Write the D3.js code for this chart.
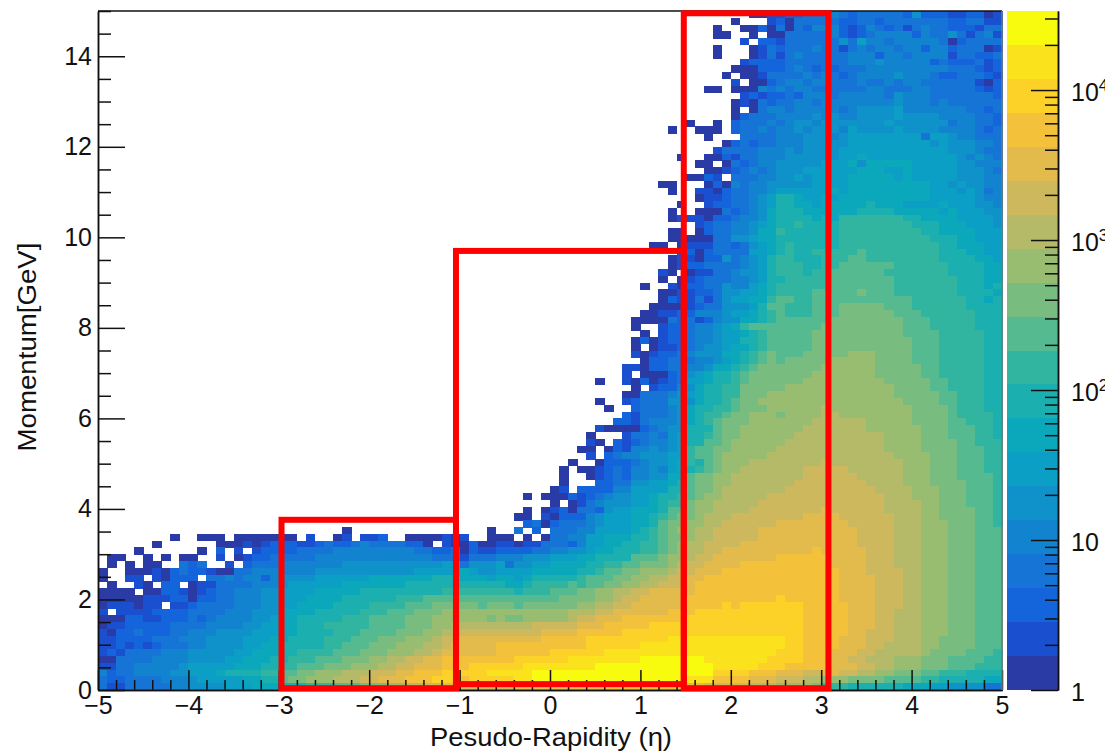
<!DOCTYPE html>
<html>
<head>
<meta charset="utf-8">
<script src="https://cdn.jsdelivr.net/npm/d3@7"></script>
<style>
  html, body { margin: 0; background: #fff; overflow: hidden; }
  text { font-family: "Liberation Sans", Arial, sans-serif; fill: #111; }
</style>
</head>
<body>
<div id="chart"></div>
<script>
// colour band of each histogram bin, one string per momentum row, top row first
// "." = empty bin, 0-9 then a-j = band on the colour bar; blocks are one eta unit wide
const binRows = [
".......... .......... .......... .......... .......... .......... .......... ..00112233 3432333332 5222112201",
".......... .......... .......... .......... .......... .......... .......... 0...120333 3322332333 3333223311",
".......... .......... .......... .......... .......... .......... ........0. .002030324 4421243231 3433222133",
".......... .......... .......... .......... .......... .......... ........00 ..0.003333 3421234444 2433531341",
".......... .......... .......... .......... .......... .......... .......... .1.2213333 3353644344 4443023333",
".......... .......... .......... .......... .......... .......... ........0. ..01323334 3313434434 4244233301",
".......... .......... .......... .......... .......... .......... ........0. ..01313433 3334442443 4444133223",
".......... .......... .......... .......... .......... .......... .......... .122223333 3334445444 4423222312",
".......... .......... .......... .......... .......... .......... .......... 0002223432 3233344444 4444333212",
".......... .......... .......... .......... .......... .......... .........0 .001333343 4323444454 4432233321",
".......... .......... .......... .......... .......... .......... .......... 1.00234434 4333433434 4333333102",
".......... .......... .......... .......... .......... .......... .......00. 0004343443 3333344333 4433333212",
".......... .......... .......... .......... .......... .......... .......... .121223244 4344444354 4433333332",
".......... .......... .......... .......... .......... .......... .......... 0103233443 4444444454 4434333333",
".......... .......... .......... .......... .......... .......... .......... 0.03443444 4434555564 4444443323",
".......... .......... .......... .......... .......... .......... .......... 0233344445 4544555565 5554444332",
".......... .......... .......... .......... .......... .......... .....0..0. 2333434554 5555555655 5555344332",
".......... .......... .......... .......... .......... .......... ...0..000. 2334344545 5546555565 5554444323",
".......... .......... .......... .......... .......... .......... .......0.. .333344455 5456666666 6366544333",
".......... .......... .......... .......... .......... .......... .........0 2323344455 5556666666 6656555443",
".......... .......... .......... .......... .......... .......... ........13 3334445455 5566666666 6666555433",
".......... .......... .......... .......... .......... .......... ....0..002 1334445555 5566766666 6666654543",
".......... .......... .......... .......... .......... .......... ......00.0 3234455555 6667577777 6666655444",
".......... .......... .......... .......... .......... .......... .......001 2343455566 6666777667 6666655543",
".......... .......... .......... .......... .......... .......... .....0021. 3334455656 6667777767 6666655544",
".......... .......... .......... .......... .......... .......... ..00...020 4344555556 6667777777 7766565544",
".......... .......... .......... .......... .......... .......... ...0..1102 3344566666 6767777777 7766656534",
".......... .......... .......... .......... .......... .......... ......0112 3345688766 7677777777 7766666544",
".......... .......... .......... .......... .......... .......... ....0..122 3345688776 7777787776 6667666554",
".......... .......... .......... .......... .......... .......... ...0..0003 2345788877 7777888877 7776766655",
".......... .......... .......... .......... .......... .......... ...0111022 3445788887 8799999998 8777766665",
".......... .......... .......... .......... .......... .......... ......1233 4456788988 8899999999 8887776665",
".......... .......... .......... .......... .......... .......... ...00.0233 4457798888 8899999999 9887777666",
".......... .......... .......... .......... .......... .......... ...0000033 5567788888 8899999999 9988877666",
".......... .......... .......... .......... .......... .......... .00.011133 2356789888 8899999999 9998877766",
".......... .......... .......... .......... .......... .......... ....120233 3366789889 9999a99999 9998887766",
".......... .......... .......... .......... .......... .......... ...0110225 3456899888 999aa99999 9998888776",
".......... .......... .......... .......... .......... .......... ...0122333 3456899988 99aaaaaa99 9999888877",
".......... .......... .......... .......... .......... .......... ..10.01133 4556899989 9aaaaaa999 9999888877",
".......... .......... .......... .......... .......... .......... ..0.012333 4456889999 9aaaaaaa99 9999988877",
".......... .......... .......... .......... .......... .......... 0..1022335 4467899999 9aaaaaaa99 9999988878",
".......... .......... .......... .......... .......... .......... ..00112235 566789999a aaaabaaa99 9999988887",
".......... .......... .......... .......... .......... .......... ..02113135 66779aa99a aaaaaaaaaa 9999998878",
".......... .......... .......... .......... .......... .......... .000012335 5568aa999a aabbbbbaaa 9999998888",
".......... .......... .......... .......... .......... .......... 0011224445 66789a999a aabbbbbbaa a999999888",
".......... .......... .......... .......... .......... .........0 0003231245 57789aaaaa abbbbbbbba aa99999888",
".......... .......... .......... .......... .......... .........0 ..12234456 79aaaaaaaa bbbbbbbbba aa99999888",
".......... .......... .......... .......... .......... .......... 0.12234456 6789aaaaab bbbbbbbbba aaa9999988",
".......... .......... .......... .......... .......... .........0 2012234456 6889aaaaab bbbbbbbbbb aaa9999988",
".......... .......... .......... .......... .......... .........0 .011234556 7789aaaaab bbbbbbbbbb aaa9999988",
".......... .......... .......... .......... .......... .........1 0122345557 789abaaabb bbbcccbbbb aaa9999988",
".......... .......... .......... .......... .......... .......... 0223334456 789ababbbb bcccccbbbb aaa9999988",
".......... .......... .......... .......... .......... ........11 0223344577 89abbbbbbb ccccccbbbb baa9999988",
".......... .......... .......... .......... .......... ........1. 0002356788 9abbbbbbbc ccccccbbbb baa9999988",
".......... .......... .......... .......... .......... .....0..10 2012366788 9abbbbbbcc cccccccbbb bbaa999988",
".......... .......... .......... .......... .......... .........0 .122457889 9bbbbbcccc ccccccccbb bbaa999988",
".......... .......... .......... .......... .......... ........00 3334567889 9bbbcccccc ccccccccbb bbbaa99988",
".......... .......... .......... .......... .......... .....0..12 3335557889 abbccccccc cccccccccb bbbaa99988",
".......... .......... .......... .......... .......... ......0..2 3334578899 abbbcccccc dccccccccc bbbba99988",
".......... .......... .......... .......... .......... ........21 333457899a bbcccbcccc ddcccccccc bbbba99998",
".......... .......... .......... .......... .......... .......221 34445789ab bbcccccccd dddddccccc bbbbaa9998",
".......... .......... .......... .......... .......... .....10000 23455888ab bcccccccdd dddddccccc cbbbaaa998",
".......... .......... .......... .......... .......... ....0...13 34356889ab bccccccddd dddddddccc cbbbaaa998",
".......... .......... .......... .......... .......... ....10.212 3445688aab ccccccdddd dddddddccc cbbbbaa999",
".......... .......... .......... .......... .......... ...00.0214 454569aabb cccccddddd dddddddccc cbbbbaaa99",
".......... .......... .......... .......... .......... ....1.2344 555669aabc ccccdddddd ddddddddcc ccbbbaaa99",
".......... .......... .......... .......... .......... ..0..02223 4556798abc ccdddddddd eddddddddc ccbbbaaa99",
".......... .......... .......... .......... .......... .0.0012324 4546789abc cdddddddee eeeddddddc ccbbbaaa99",
".......... .......... .......... .......... .......... .0..012324 45577abbcc ddddddddee eeeedddddc ccbbbaaaa9",
".......... .......... .......... .......... .......... .0...22335 56678abbcc dddddddeee eeeeeddddc ccbbbbaaa9",
".......... .......... .......... .......... .......... 01.2222446 66688abbcd ddddddeeee eeeeeedddd cccbbbaaa9",
".......... .......... .......... .......... .......0.0 0021234556 67889abccd ddddeeeeee eeeeeeeddd cccbbbaaa9",
".......... .......... .......... .......... .......... 0.01345556 67899bccdd dddeeeeeee eeeeeeeddd dccbbbaaa9",
".......... .......... .......... .......... .......0.0 1203325667 778aabccdd ddeeeeeeee feeeeeeddd dccbbbbaa9",
".......... .......... .......... .......... ......00.1 0222456667 789abbcddd eeeeeeeeff ffeeeeeedd dccbbbbaa9",
".......... .......... .......... .......... .......230 2333456667 78abbccdde eeeeefffff fffeeeeedd dcccbbbaa9",
".......... .......... .......0.. .......... ...0..3.2. 3334466667 89abccddee eeefffffff ffffeeeedd dcccbbbaaa",
"........0. .000.00000 00.1..01.1 12..000010 1..000.0.0 3344667778 89abbcddee eeefffffff ffffeeeedd dcccbbbaaa",
"......0... ...0001012 2211232234 3333220.10 0200110113 3324667788 99abcddeee efffffffff ffffeeeedd dcccbbbaaa",
"....0..... .0.2.1.122 2233334444 4444433223 0211222233 4455677888 99abcddeef fffffffffg fffffeeedd dcccbbbaaa",
".00..0.0.0 0..1.01223 3333444444 4444444333 1333444555 666778888a aabccdeeff fffffggggg gffffeeedd dcccbbbaaa",
".0.0.00..3 23..1.2333 4444444555 5555555566 3555635566 77778899aa bbbcdeefff fggggggggg gffffeeedd dcccbbbaaa",
"0..0001023 2210033444 4444555555 5555566666 7655666677 777889aabb cccdeefffg gggggggggg ggfffeeeed dcccbbbaaa",
"0..11.1022 2.33434424 5555666666 7777777888 7776776788 8889aaabbc cddeeffggg gggggggggg ggffffeeed dcccbbbaaa",
".0..10.22. 0113333444 5666666777 7777888888 8888877899 99a9aabbcc ddeeefgggg gggggggggg ggffffeeed dcccbbbaaa",
"0000.00221 0123344455 6666777778 8888888899 9999998999 aaabbccdde efffffgggg gggggggggg ggffffeeed dcccbbbaaa",
"0000011122 0223344455 6667777888 888999aaaa aaaaaaaaaa abbbbccdee fffffggggg ggggghgggg ggffffeeed dcccbbbaaa",
"0111011.11 2333344455 6677778888 9999aaabbb bbabbbabbb bbbccddeef fffffggggh ghhhhhhhgg gggfffeeed dcccbbbaaa",
"1.11112222 3333444555 7777888889 99aaabbbcc cccccccccc ccdddeefff fffggghhhh hhhhhhhhgg gggfffeedd dcccbbbaaa",
"0002211222 3234444556 7788888999 aaaabbbccc cccbcbbccc ccdeefffgg ggggghhhhh hhhhhhhhgg gggfffeedd dcccbbbaaa",
"0112222233 3344445566 7788899999 aaaabbbccd ddddddddee eeefffgggg ghhhhhhhhh hhhhhhhhgg gggfffeedd dcccbbbaaa",
"1022322233 4445555666 778888999a aaabbbccdd eeeeeeeeef fffggggghh hhhhhhhhhh hhhhhhhhgg gggffeeedd dcccbbbaaa",
"1122223334 4455556667 78888999aa abbbcccdee fffffffffg gggghhhhhh hhhiiiiiii iiiiiihhgg ggfffeeedd dccbbbbaaa",
"1121212333 4455556677 8888899aaa bbbcccddef ffffgggggg gggghhhhhh iiiiiiiiii iiiiiihhgg ggfffeeddd dccbbbbaaa",
"1213333444 5555566777 889999aaab bbcccddeff ffffgggggg hhhhhhiiii iiiiiiiiii iiiiihhhgg gfffeedddd dcbbbbaaa9",
"0033334444 5555667778 8999aaabbb ccddeeffgg gggggghhhh hhiiiiiiii jjjjjjjiii iiiihhhhgg gffeedddcc cbbbaaaa99",
"1133444445 6666677788 99aaabbbcc cddeefffgg ghhhhhhiii iiiiijjjjj jjjjjjjjii iiihhhgggg gfffeeddcc cbbbaaa999",
"4233444455 6667888899 aabbcccddd eeeffggghh hhhiiiiijj jjjjjjjjjj jjjjjjjjhh hhgggfffee ffeeddccbb baa9998888",
"3223333444 5666667788 abbcccddde efffggghhh ghhhhhiijj jjjjjjjjjj jjjjjiiigg ggfffeeedd cccbbbbaaa a998888877",
"3113333344 5555666777 888999aaab bbccddeeff eeeeeeffff ffffffgggg ggggfffeee eedddccccb 9998888887 7766555533"
];
const nEtaBins = 100;
const nMomBins = 100;
const bandCodes = "0123456789abcdefghij".split("");
const bandColors = ["#2b3ba6", "#1a50cf", "#1464dc", "#1574d6", "#1283cf", "#0f91c9", "#0b9fc6", "#0ba8bc",
    "#1bafb0", "#31b5a0", "#55ba90", "#78bc80", "#98bd70", "#b4ba68", "#cdb85e", "#e2bb4c",
    "#f4c23a", "#fdd228", "#fae31c", "#f9fb0e"];
const zMax = 33650;
const xMajor = [-5, -4, -3, -2, -1, 0, 1, 2, 3, 4, 5];
const yMajor = [0, 2, 4, 6, 8, 10, 12, 14];
const zMajor = [1, 10, 100, 1000, 10000];
const zMinor = [2, 3, 4, 5, 6, 7, 8, 9, 20, 30, 40, 50, 60, 70, 80, 90, 200, 300, 400, 500, 600, 700, 800, 900,
    2000, 3000, 4000, 5000, 6000, 7000, 8000, 9000, 20000, 30000];
// eta from, eta to, momentum from, momentum to
const regionEta = [-2.97, -1.04, 1.48];
const regionEtaEnd = [-1.04, 1.48, 3.08];
const regionMomLow = [0.04, 0.13, 0.04];
const regionMomHigh = [3.76, 9.7, 14.95];

const width = 1105, height = 753;
const left = 98, right = 1002, top_ = 11, bottom = 690;
const barLeft = 1007, barRight = 1058;

const x = d3.scaleLinear().domain([-5, 5]).range([left, right]);
const y = d3.scaleLinear().domain([0, 15]).range([bottom, top_]);
const z = d3.scaleLog().domain([1, zMax]).range([bottom, top_]);
const color = d3.scaleOrdinal().domain(bandCodes).range(bandColors);

const svg = d3.select("#chart").append("svg")
    .attr("width", width)
    .attr("height", height)
    .style("display", "block");

const cells = [];
binRows.forEach((row, i) => {
    const codes = row.replace(/ /g, "");
    if (codes.length !== nEtaBins) console.error("row", i, codes.length);
    codes.split("").forEach((code, c) => {
        if (code !== ".") cells.push({ eta: -5 + c * 10 / nEtaBins, mom: 15 - (i + 1) * 15 / nMomBins, code });
    });
});

svg.append("g").attr("shape-rendering", "crispEdges")
    .selectAll("rect")
    .data(cells)
    .enter()
    .append("rect")
    .attr("x", d => x(d.eta))
    .attr("y", d => y(d.mom + 15 / nMomBins))
    .attr("width", x(-5 + 10 / nEtaBins) - x(-5) + 0.5)
    .attr("height", y(0) - y(15 / nMomBins) + 0.5)
    .attr("fill", d => color(d.code));

// colour bar
svg.append("g").attr("shape-rendering", "crispEdges")
    .selectAll("rect")
    .data(bandCodes)
    .enter()
    .append("rect")
    .attr("x", barLeft)
    .attr("width", barRight - barLeft)
    .attr("y", (d, i) => z(Math.pow(zMax, (i + 1) / bandCodes.length)))
    .attr("height", (d, i) => z(Math.pow(zMax, i / bandCodes.length)) - z(Math.pow(zMax, (i + 1) / bandCodes.length)))
    .attr("fill", d => color(d));

function styleAxis(g) {
    g.selectAll("path, line").attr("stroke", "#111").attr("stroke-width", 1.5);
    g.selectAll("text").style("font-size", "25px").attr("fill", "#111");
}

const xMinor = d3.range(-5, 5.01, 0.2).filter(v => Math.abs(v - Math.round(v)) > 0.01);
const yMinor = d3.range(0, 15.01, 0.5).filter(v => v % 2 !== 0);

svg.append("g").attr("transform", `translate(0,${bottom})`)
    .call(d3.axisBottom(x).tickValues(xMinor).tickSize(-10).tickSizeOuter(0).tickFormat(""))
    .call(styleAxis);
svg.append("g").attr("transform", `translate(0,${bottom})`)
    .call(d3.axisBottom(x).tickValues(xMajor).tickSize(-20).tickSizeOuter(0).tickPadding(6))
    .call(styleAxis);

svg.append("g").attr("transform", `translate(${left},0)`)
    .call(d3.axisLeft(y).tickValues(yMinor).tickSize(-13).tickSizeOuter(0).tickFormat(""))
    .call(styleAxis);
svg.append("g").attr("transform", `translate(${left},0)`)
    .call(d3.axisLeft(y).tickValues(yMajor).tickSize(-27).tickSizeOuter(0).tickPadding(6))
    .call(styleAxis);

// frame top and right
svg.append("line").attr("x1", x(-5)).attr("x2", x(5)).attr("y1", y(15)).attr("y2", y(15))
    .attr("stroke", "#111").attr("stroke-width", 1.5);
svg.append("line").attr("x1", x(5)).attr("x2", x(5)).attr("y1", y(15)).attr("y2", y(0))
    .attr("stroke", "#777").attr("stroke-width", 1.5);

// colour bar axis, labels written as 10 + superscript
svg.append("g").attr("transform", `translate(${barRight},0)`)
    .call(d3.axisRight(z).tickValues(zMinor).tickSize(-13).tickSizeOuter(0).tickFormat(""))
    .call(styleAxis);
const zAxis = svg.append("g").attr("transform", `translate(${barRight},0)`)
    .call(d3.axisRight(z).tickValues(zMajor).tickSize(-27).tickSizeOuter(0).tickPadding(13).tickFormat(""))
    .call(styleAxis);
zAxis.selectAll(".tick text").attr("dy", "0.42em").each(function (d) {
    const t = d3.select(this);
    const power = Math.round(Math.log10(d));
    t.append("tspan").text(d === 1 ? "1" : "10");
    if (power > 1) {
        t.append("tspan").attr("dy", -10).style("font-size", "17px").text(power);
    }
});

// selection regions
svg.append("g")
    .selectAll("rect")
    .data(regionEta)
    .enter()
    .append("rect")
    .attr("x", d => x(d))
    .attr("y", (d, i) => y(regionMomHigh[i]))
    .attr("width", (d, i) => x(regionEtaEnd[i]) - x(d))
    .attr("height", (d, i) => y(regionMomLow[i]) - y(regionMomHigh[i]))
    .attr("fill", "none")
    .attr("stroke", "#fe0000")
    .attr("stroke-width", 6);

svg.append("text")
    .attr("x", 551)
    .attr("y", 746)
    .attr("text-anchor", "middle")
    .attr("textLength", 242)
    .attr("lengthAdjust", "spacingAndGlyphs")
    .style("font-size", "26px")
    .text("Pesudo-Rapidity (η)");

svg.append("text")
    .attr("transform", "translate(36,347) rotate(-90)")
    .attr("text-anchor", "middle")
    .attr("textLength", 209)
    .attr("lengthAdjust", "spacingAndGlyphs")
    .style("font-size", "26px")
    .text("Momentum[GeV]");
</script>
</body>
</html>
